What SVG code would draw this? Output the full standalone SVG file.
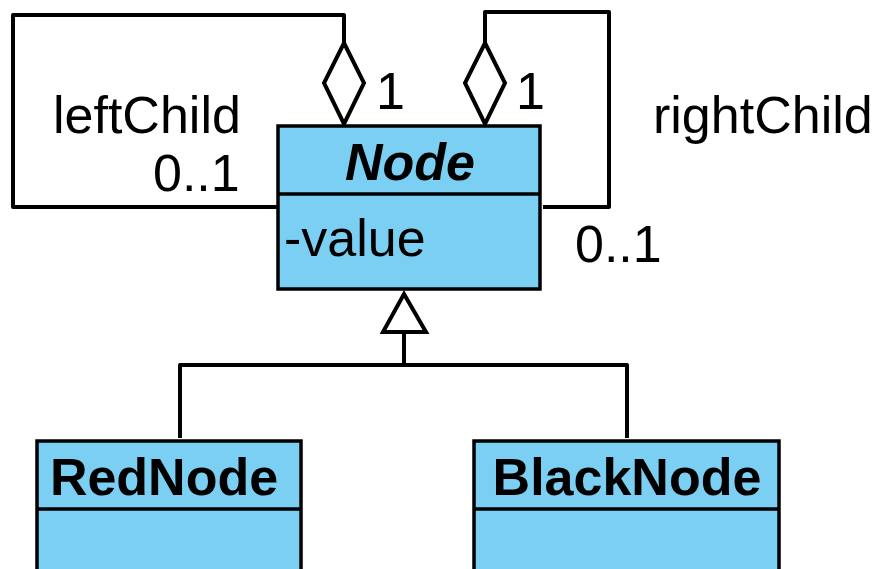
<svg xmlns="http://www.w3.org/2000/svg" width="879" height="569" viewBox="0 0 879 569">
<style>
.box{fill:#7BCFF3;stroke:#000;stroke-width:3.5}
.div{stroke:#000;stroke-width:3.5}
.ln{fill:none;stroke:#000;stroke-width:4;stroke-linejoin:round}
.dia{fill:#fff;stroke:#000;stroke-width:4}
.t{font-family:"Liberation Sans",Arial,sans-serif;font-size:52px;fill:#000}
.b{font-weight:bold}
.i{font-style:italic}
</style>
<rect width="879" height="569" fill="#fff"/>
<g id="connectors">
  <polyline class="ln" points="277,207 13,207 13,15 344,15 344,43"/>
  <polygon class="dia" points="344,43 364,83 344,124 324,83"/>
  <polyline class="ln" points="485,43 485,12 609,12 609,207 543,207"/>
  <polygon class="dia" points="485,43 505,83 485,124 465,83"/>
  <polyline class="ln" points="180,438 180,365 627,365 627,438"/>
  <line class="ln" x1="404" y1="332" x2="404" y2="365" stroke-width="5"/>
  <polygon class="dia" points="404,294 426,332 383,332" stroke-width="5"/>
</g>
<g id="labels">
  <text class="t" x="53" y="133">leftChild</text>
  <text class="t" x="153" y="191">0..1</text>
  <text class="t" x="376" y="109">1</text>
  <text class="t" x="516" y="109">1</text>
  <text class="t" x="653" y="133">rightChild</text>
  <text class="t" x="575" y="262">0..1</text>
</g>
<g id="Node">
  <rect class="box" x="278" y="126" width="262" height="163"/>
  <line class="div" x1="278" y1="194" x2="540" y2="194"/>
  <text class="t b i" x="410" y="180" text-anchor="middle">Node</text>
  <text class="t" x="284" y="256">-value</text>
</g>
<g id="RedNode">
  <rect class="box" x="37" y="441" width="264" height="140"/>
  <line class="div" x1="37" y1="509" x2="301" y2="509"/>
  <text class="t b" x="164" y="495" text-anchor="middle">RedNode</text>
</g>
<g id="BlackNode">
  <rect class="box" x="474" y="441" width="305" height="140"/>
  <line class="div" x1="474" y1="509" x2="779" y2="509"/>
  <text class="t b" x="627" y="495" text-anchor="middle">BlackNode</text>
</g>
</svg>
